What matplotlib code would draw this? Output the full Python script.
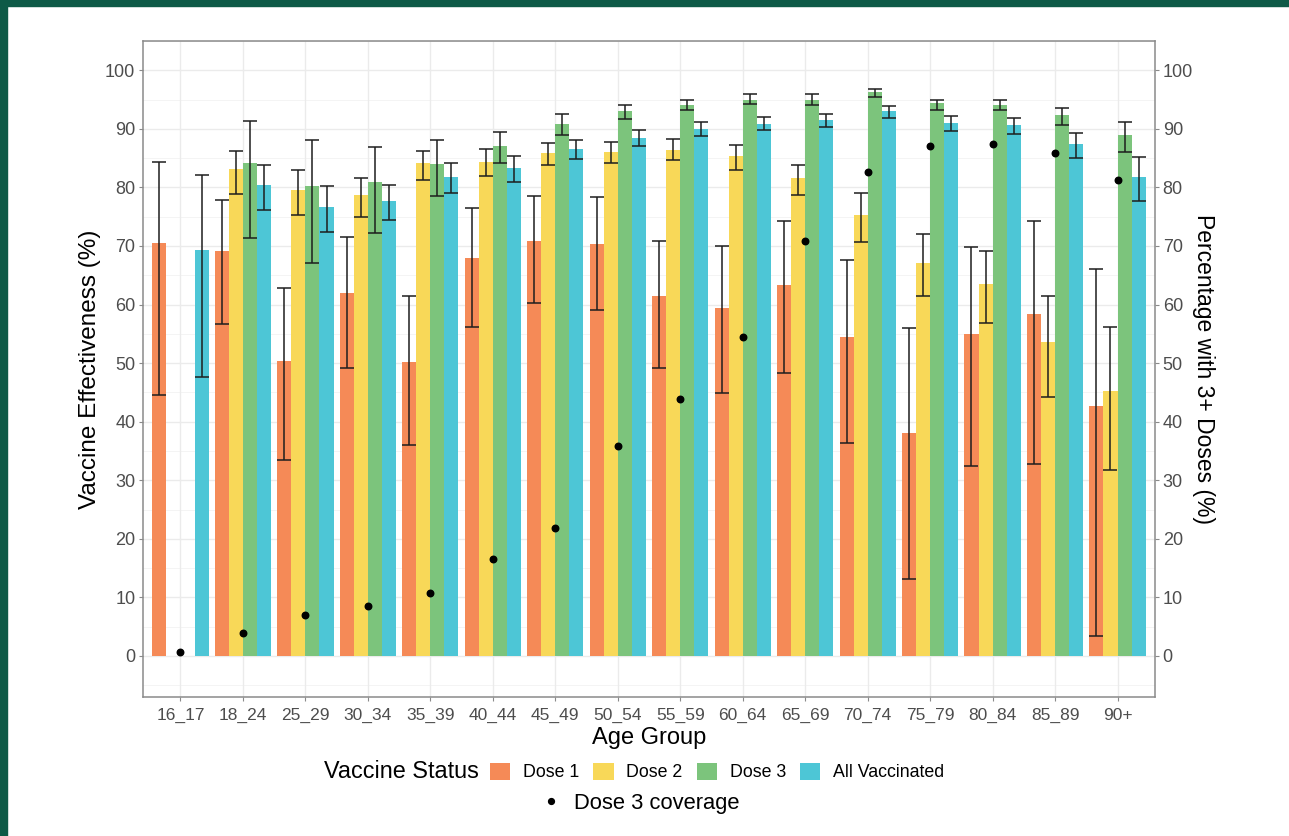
import numpy as np
import matplotlib
matplotlib.use("Agg")
import matplotlib.pyplot as plt
from matplotlib.patches import Patch, Rectangle
from matplotlib.lines import Line2D

plt.rcParams['font.family'] = ['Liberation Sans', 'DejaVu Sans']

age_groups = ['16_17', '18_24', '25_29', '30_34', '35_39', '40_44', '45_49', '50_54',
              '55_59', '60_64', '65_69', '70_74', '75_79', '80_84', '85_89', '90+']

nan = np.nan
# vaccine effectiveness (%) with 95% CI, one list per vaccine status
dose1 = [70.5, 69.2, 50.3, 62.0, 50.2, 68.0, 70.9, 70.3, 61.5, 59.4, 63.4, 54.5, 38.1, 54.9, 58.4, 42.7]
dose1_lo = [44.6, 56.7, 33.5, 49.1, 36.0, 56.2, 60.3, 59.1, 49.1, 44.9, 48.3, 36.3, 13.1, 32.5, 32.7, 3.4]
dose1_hi = [84.3, 77.9, 62.9, 71.5, 61.4, 76.5, 78.6, 78.4, 70.9, 70.0, 74.2, 67.6, 56.0, 69.9, 74.2, 66.0]

dose2 = [nan, 83.1, 79.5, 78.7, 84.1, 84.3, 85.8, 86.0, 86.4, 85.4, 81.6, 75.3, 67.1, 63.5, 53.6, 45.2]
dose2_lo = [nan, 78.9, 75.3, 75.0, 81.3, 81.9, 83.8, 84.2, 84.6, 83.0, 78.7, 70.7, 61.4, 56.8, 44.2, 31.7]
dose2_hi = [nan, 86.3, 82.9, 81.6, 86.3, 86.6, 87.6, 87.7, 88.2, 87.2, 83.9, 79.1, 72.0, 69.1, 61.5, 56.2]

dose3 = [nan, 84.2, 80.2, 80.9, 84.0, 87.1, 90.9, 93.0, 94.1, 95.0, 95.0, 96.3, 94.4, 94.0, 92.3, 88.9]
dose3_lo = [nan, 71.4, 67.1, 72.3, 78.6, 84.2, 88.9, 91.7, 93.2, 94.2, 94.1, 95.5, 93.3, 93.2, 90.7, 86.1]
dose3_hi = [nan, 91.3, 88.1, 86.9, 88.1, 89.5, 92.5, 94.1, 95.0, 96.0, 95.9, 96.8, 95.0, 94.9, 93.6, 91.1]

allvac = [69.3, 80.5, 76.6, 77.7, 81.7, 83.3, 86.6, 88.4, 90.0, 90.9, 91.5, 93.0, 91.0, 90.6, 87.4, 81.7]
allvac_lo = [47.6, 76.2, 72.4, 74.4, 79.1, 81.0, 84.8, 87.0, 88.7, 89.8, 90.4, 91.8, 89.6, 89.2, 85.1, 77.6]
allvac_hi = [82.05, 83.9, 80.2, 80.5, 84.2, 85.4, 88.1, 89.8, 91.1, 92.0, 92.5, 93.9, 92.2, 91.8, 89.3, 85.2]

# share of each age group with 3+ doses (%)
coverage = [0.6, 4.0, 7.0, 8.5, 10.8, 16.6, 21.9, 35.9, 43.9, 54.4, 70.8, 82.7, 87.1, 87.4, 85.8, 81.2]

status = ['Dose 1', 'Dose 2', 'Dose 3', 'All Vaccinated']
colors = ['#F58A57', '#F8D858', '#7CC47C', '#4DC6D6']
series = [(dose1, dose1_lo, dose1_hi), (dose2, dose2_lo, dose2_hi),
          (dose3, dose3_lo, dose3_hi), (allvac, allvac_lo, allvac_hi)]

fig = plt.figure(figsize=(12.89, 8.36), dpi=100)
ax = fig.add_axes([143/1289, 139/836, 1012/1289, 656/836])

x = np.arange(1, len(age_groups) + 1)
w = 0.225
offsets = [-1.5*w, -0.5*w, 0.5*w, 1.5*w]

# grid
for v in np.arange(0, 101, 10):
    ax.axhline(v, color='#EBEBEB', lw=1.0, zorder=0)
for v in np.arange(-5, 106, 10):
    ax.axhline(v, color='#F3F3F3', lw=0.6, zorder=0)
for xi in x:
    ax.axvline(xi, color='#EBEBEB', lw=1.0, zorder=0)

for (vals, lo, hi), off, c in zip(series, offsets, colors):
    vals = np.array(vals); lo = np.array(lo); hi = np.array(hi)
    ax.bar(x + off, vals, width=w, color=c, zorder=2)
    ok = ~np.isnan(vals)
    ax.errorbar((x + off)[ok], vals[ok], yerr=[vals[ok] - lo[ok], hi[ok] - vals[ok]],
                fmt='none', ecolor='#1E1E1E', elinewidth=1.1, capsize=5, capthick=1.1, zorder=3)

ax.scatter(x, coverage, s=22, color='black', zorder=4)

ax.set_xlim(0.4, 16.6)
ax.set_ylim(-7, 105)
ax.set_xticks(x)
ax.set_xticklabels(age_groups)
ax.set_yticks(np.arange(0, 101, 10))
for s in ax.spines.values():
    s.set_color('#8A8A8A')
    s.set_linewidth(1.1)
ax.tick_params(colors='#8A8A8A', labelcolor='#4D4D4D', labelsize=13, length=3, pad=2.5)
ax.tick_params(axis='x', labelsize=12.5, pad=5)

ax2 = ax.twinx()
ax2.set_ylim(-7, 105)
ax2.set_yticks(np.arange(0, 101, 10))
ax2.tick_params(colors='#8A8A8A', labelcolor='#4D4D4D', labelsize=13, length=3, pad=2.5)
for s in ax2.spines.values():
    s.set_visible(False)

ax.set_xlabel('Age Group', fontsize=17, labelpad=3)
ax.set_ylabel('Vaccine Effectiveness (%)', fontsize=17.5, labelpad=3)
ax2.set_ylabel('Percentage with 3+ Doses (%)', fontsize=16.5, rotation=270, labelpad=16)

# legend rows
fig.text(479/1289, 1 - 772/836, 'Vaccine Status', fontsize=16.8, ha='right', va='center')
handles = [Patch(facecolor=c, edgecolor='none') for c in colors]
fig.legend(handles, status, loc='center left', bbox_to_anchor=(481/1289, 1 - 772/836),
           ncol=4, frameon=False, fontsize=12.8, handlelength=1.15, handleheight=1.15,
           handletextpad=0.7, columnspacing=0.8, borderpad=0)
dot = Line2D([], [], marker='o', color='black', linestyle='none', markersize=4.2)
fig.legend([dot], ['Dose 3 coverage'], loc='center left', bbox_to_anchor=(530/1289, 1 - 803/836),
           frameon=False, fontsize=15.8, handlelength=0.9, handletextpad=0.6, borderpad=0)

# dark green frame on top and left
fig.patches.append(Rectangle((0, 1 - 6/836), 1, 6/836, transform=fig.transFigure,
                             color='#0E5A47', zorder=10))
fig.patches.append(Rectangle((0, 0), 7/1289, 1, transform=fig.transFigure,
                             color='#0E5A47', zorder=10))

fig.savefig('out.png', dpi=100)
